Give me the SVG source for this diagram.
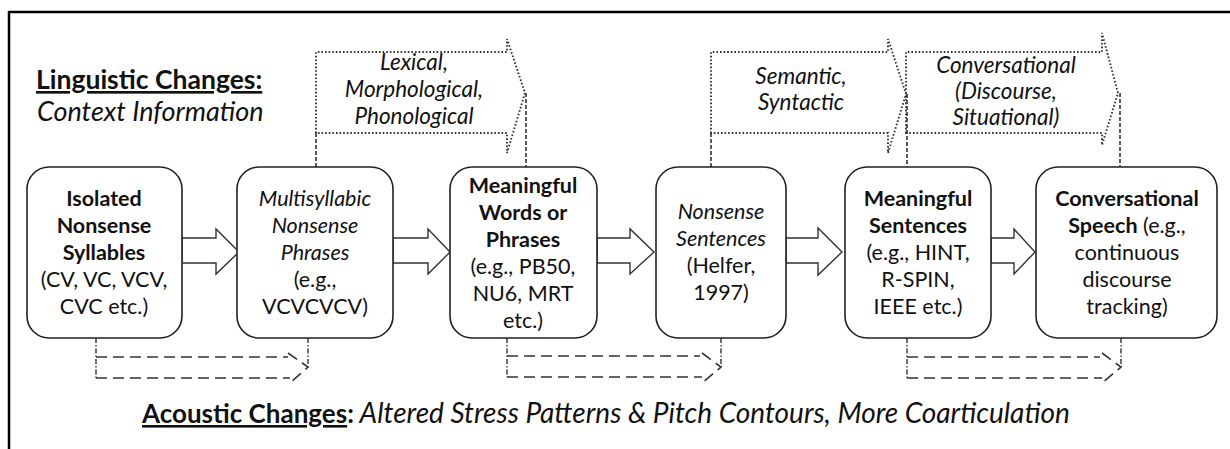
<svg xmlns="http://www.w3.org/2000/svg" width="1230" height="449" viewBox="0 0 1230 449">
<style>
  text { font-family: Lato, "Open Sans", "Liberation Sans", sans-serif; fill: #111; }
  .box { fill: #fff; stroke: #222; stroke-width: 1.6; }
  .t { font-size: 21.5px; text-anchor: middle; }
  .b { font-weight: bold; }
  .i { font-style: italic; }
  .blk { fill: #fff; stroke: #333; stroke-width: 1.4; stroke-linejoin: miter; }
  .dot { fill: none; stroke: #333; stroke-width: 1.9; stroke-dasharray: 1.6 2; }
  .vdash { fill: none; stroke: #333; stroke-width: 1.6; stroke-dasharray: 4 2; }
  .dash { fill: none; stroke: #333; stroke-width: 1.6; stroke-dasharray: 11 6; }
  .dashdot { fill: none; stroke: #333; stroke-width: 1.4; stroke-dasharray: 5 2 1.5 2; }
  .lab { font-size: 22.5px; font-style: italic; text-anchor: middle; }
</style>

<!-- frame (cropped) -->
<g id="frame">
  <line x1="9" y1="12" x2="1230" y2="12" stroke="#000" stroke-width="2.5"/>
  <line x1="9" y1="11" x2="9" y2="449" stroke="#000" stroke-width="2.5"/>
</g>

<g id="title">
  <text x="36" y="89" font-size="26.5" font-weight="bold" text-decoration="underline">Linguistic Changes:</text>
  <text x="37" y="121" font-size="27" font-style="italic">Context Information</text>
</g>

<g id="connectors">
  <!-- block arrows between boxes -->
  <polygon class="blk" points="182,238 216,238 216,229 239,252 216,274 216,263 182,263"/>
  <polygon class="blk" points="393,238 428,238 428,229 450,252 428,274 428,263 393,263"/>
  <polygon class="blk" points="597,238 630,238 630,229 654,252 630,274 630,263 597,263"/>
  <polygon class="blk" points="786,238 818,238 818,228 842,252 818,275 818,263 786,263"/>
  <polygon class="blk" points="991,238 1014,238 1014,229 1035,252 1014,274 1014,263 991,263"/>

  <!-- linguistic dotted arrows -->
  <path class="dot" d="M316,133 L316,52 L507,52 L507,39 L525,93 L507,153 L507,133 Z"/>
  <line class="vdash" x1="316" y1="133" x2="316" y2="167"/>
  <line class="vdash" x1="526" y1="93" x2="526" y2="167"/>

  <path class="dot" d="M711,133 L711,52 L888,52 L888,39 L906,94 L888,153 L888,133 Z"/>
  <line class="vdash" x1="711" y1="133" x2="711" y2="167"/>
  <line class="vdash" x1="907" y1="94" x2="907" y2="167"/>

  <path class="dot" d="M906,133 L906,52 L1102,52 L1102,33 L1118,93 L1102,145 L1102,133 Z"/>
  <line class="vdash" x1="1120" y1="93" x2="1120" y2="167"/>

  <!-- acoustic dashed arrows -->
  <path class="dash" d="M96,357 L288,357 M96,378 L290,378"/>
  <path class="dash" d="M288,353 L308,367 L290,383" stroke-dasharray="9 5"/>
  <line class="dashdot" x1="96" y1="338" x2="96" y2="378"/>
  <line class="dashdot" x1="308" y1="338" x2="308" y2="367"/>

  <path class="dash" d="M507,356 L700,356 M507,377 L702,377"/>
  <path class="dash" d="M702,353 L721,367 L702,383" stroke-dasharray="9 5"/>
  <line class="dashdot" x1="507" y1="338" x2="507" y2="377"/>
  <line class="dashdot" x1="721" y1="338" x2="721" y2="367"/>

  <path class="dash" d="M907,357 L1100,357 M907,378 L1102,378"/>
  <path class="dash" d="M1102,353 L1121,367 L1102,383" stroke-dasharray="9 5"/>
  <line class="dashdot" x1="907" y1="338" x2="907" y2="378"/>
  <line class="dashdot" x1="1121" y1="338" x2="1121" y2="367"/>
</g>

<g id="label-lexical">
  <text class="lab" x="414" y="70">Lexical,</text>
  <text class="lab" x="414" y="97">Morphological,</text>
  <text class="lab" x="414" y="124">Phonological</text>
</g>
<g id="label-semantic">
  <text class="lab" x="801" y="84">Semantic,</text>
  <text class="lab" x="801" y="110">Syntactic</text>
</g>
<g id="label-conversational">
  <text class="lab" x="1006" y="73">Conversational</text>
  <text class="lab" x="1006" y="99">(Discourse,</text>
  <text class="lab" x="1006" y="125">Situational)</text>
</g>

<g id="node1">
  <rect class="box" x="27" y="167" width="155" height="171" rx="22"/>
  <text class="t b" x="104" y="206">Isolated</text>
  <text class="t b" x="104" y="233">Nonsense</text>
  <text class="t b" x="104" y="260">Syllables</text>
  <text class="t" x="104" y="287">(CV, VC, VCV,</text>
  <text class="t" x="104" y="314">CVC etc.)</text>
</g>
<g id="node2">
  <rect class="box" x="237" y="167" width="156" height="171" rx="22"/>
  <text class="t i" x="315" y="206">Multisyllabic</text>
  <text class="t i" x="315" y="233">Nonsense</text>
  <text class="t i" x="315" y="260">Phrases</text>
  <text class="t" x="315" y="287">(e.g.,</text>
  <text class="t" x="315" y="314">VCVCVCV)</text>
</g>
<g id="node3">
  <rect class="box" x="450" y="167" width="147" height="171" rx="22"/>
  <text class="t b" x="523" y="193">Meaningful</text>
  <text class="t b" x="523" y="220">Words or</text>
  <text class="t b" x="523" y="247">Phrases</text>
  <text class="t" x="523" y="274">(e.g., PB50,</text>
  <text class="t" x="523" y="301">NU6, MRT</text>
  <text class="t" x="523" y="328">etc.)</text>
</g>
<g id="node4">
  <rect class="box" x="656" y="167" width="130" height="171" rx="22"/>
  <text class="t i" x="721" y="219">Nonsense</text>
  <text class="t i" x="721" y="246">Sentences</text>
  <text class="t" x="721" y="273">(Helfer,</text>
  <text class="t" x="721" y="300">1997)</text>
</g>
<g id="node5">
  <rect class="box" x="845" y="167" width="146" height="171" rx="22"/>
  <text class="t b" x="918" y="206">Meaningful</text>
  <text class="t b" x="918" y="233">Sentences</text>
  <text class="t" x="918" y="260">(e.g., HINT,</text>
  <text class="t" x="918" y="287">R-SPIN,</text>
  <text class="t" x="918" y="314">IEEE etc.)</text>
</g>
<g id="node6">
  <rect class="box" x="1036" y="167" width="181" height="171" rx="22"/>
  <text class="t b" x="1127" y="206">Conversational</text>
  <text class="t" x="1127" y="233"><tspan font-weight="bold">Speech</tspan> (e.g.,</text>
  <text class="t" x="1127" y="260">continuous</text>
  <text class="t" x="1127" y="287">discourse</text>
  <text class="t" x="1127" y="314">tracking)</text>
</g>

<g id="acoustic">
  <text x="142" y="423" font-size="26"><tspan font-weight="bold" text-decoration="underline">Acoustic Changes</tspan><tspan font-weight="bold">:</tspan><tspan font-style="italic" font-size="28"> Altered Stress Patterns &amp; Pitch Contours, More Coarticulation</tspan></text>
</g>
</svg>
